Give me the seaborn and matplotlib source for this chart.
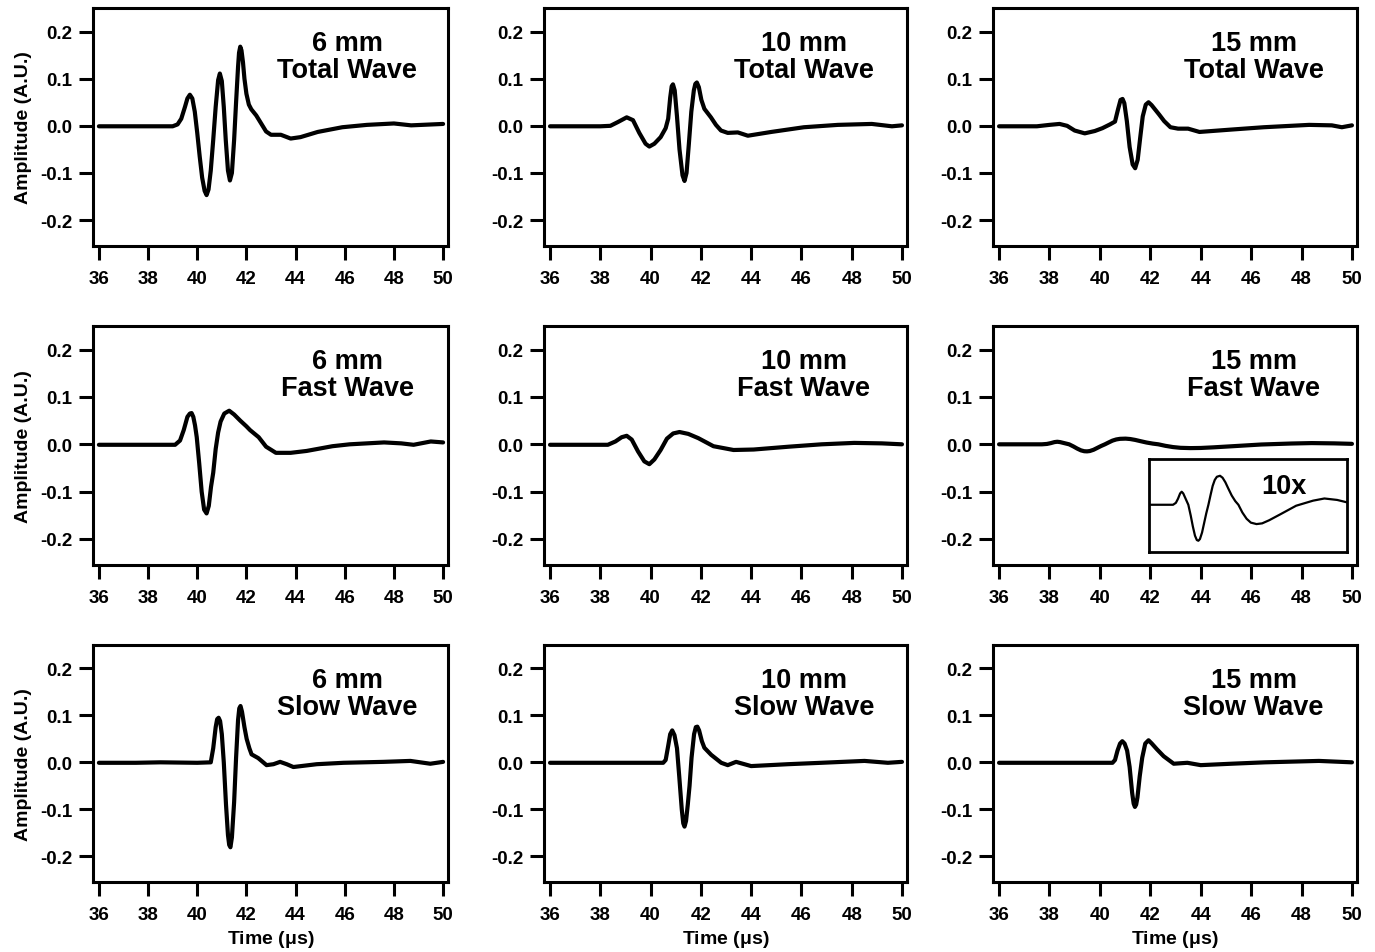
import numpy as np
import matplotlib.pyplot as plt
import seaborn as sns

# Waveforms: time in us, amplitude in A.U.
t_total_6 = [36.0, 37.0, 38.0, 39.0, 39.2, 39.35, 39.5, 39.6, 39.7, 39.8, 39.9, 40.0, 40.1, 40.2,
             40.3, 40.38, 40.46, 40.55, 40.65, 40.75, 40.85, 40.92, 41.0, 41.08, 41.16, 41.25,
             41.33, 41.41, 41.5, 41.58, 41.66, 41.7, 41.75, 41.8, 41.86, 41.92, 42.0, 42.1, 42.2,
             42.4, 42.6, 42.8, 43.0, 43.4, 43.8, 44.2, 44.9, 45.9, 46.9, 48.0, 48.7, 50.0]
a_total_6 = [-0.001, -0.001, -0.001, -0.001, 0.003, 0.015, 0.04, 0.058, 0.066, 0.058, 0.03, -0.015,
             -0.065, -0.11, -0.138, -0.147, -0.135, -0.095, -0.03, 0.04, 0.097, 0.111, 0.095, 0.04,
             -0.03, -0.095, -0.116, -0.1, -0.03, 0.05, 0.125, 0.155, 0.168, 0.16, 0.135, 0.1,
             0.068, 0.045, 0.035, 0.022, 0.005, -0.012, -0.019, -0.019, -0.027, -0.024, -0.013,
             -0.003, 0.002, 0.005, 0.001, 0.004]

t_total_10 = [36.0, 38.0, 38.4, 38.7, 39.05, 39.3, 39.55, 39.8, 39.95, 40.15, 40.4, 40.6, 40.7,
              40.78, 40.84, 40.89, 40.96, 41.05, 41.15, 41.27, 41.35, 41.43, 41.52, 41.62, 41.72,
              41.78, 41.84, 41.92, 42.02, 42.14, 42.4, 42.6, 42.8, 43.07, 43.47, 43.87, 44.8, 46.1,
              47.45, 48.8, 49.6, 50.0]
a_total_10 = [-0.001, -0.001, 0.0, 0.008, 0.018, 0.012, -0.015, -0.038, -0.044, -0.038, -0.024,
              -0.005, 0.015, 0.06, 0.084, 0.088, 0.075, 0.02, -0.05, -0.105, -0.117, -0.1, -0.04,
              0.03, 0.075, 0.089, 0.092, 0.082, 0.055, 0.036, 0.018, 0.002, -0.01, -0.015, -0.014,
              -0.021, -0.013, -0.003, 0.002, 0.004, -0.001, 0.001]

t_total_15 = [36.0, 37.5, 38.0, 38.4, 38.7, 39.0, 39.4, 39.8, 40.1, 40.4, 40.6, 40.72, 40.82, 40.9,
              40.97, 41.07, 41.18, 41.3, 41.4, 41.5, 41.6, 41.7, 41.82, 41.93, 42.05, 42.2, 42.35,
              42.55, 42.8, 43.1, 43.5, 43.95, 45.2, 46.5, 48.3, 49.2, 49.6, 50.0]
a_total_15 = [-0.001, -0.001, 0.002, 0.004, 0.0, -0.01, -0.016, -0.011, -0.005, 0.003, 0.009, 0.035,
              0.055, 0.057, 0.048, 0.01, -0.045, -0.082, -0.09, -0.072, -0.025, 0.02, 0.045, 0.05,
              0.044, 0.034, 0.024, 0.01, -0.003, -0.006, -0.006, -0.013, -0.008, -0.003, 0.002,
              0.001, -0.003, 0.001]

t_fast_6 = [36.0, 39.1, 39.3, 39.45, 39.6, 39.7, 39.77, 39.84, 39.91, 39.98, 40.08, 40.18, 40.28,
            40.38, 40.47, 40.56, 40.65, 40.75, 40.85, 40.95, 41.1, 41.3, 41.5, 41.75, 42.0, 42.15,
            42.5, 42.8, 43.2, 43.8, 44.45, 45.5, 46.2, 47.6, 48.3, 48.8, 49.5, 50.0]
a_fast_6 = [-0.001, -0.001, 0.008, 0.03, 0.058, 0.065, 0.066, 0.058, 0.04, 0.015, -0.04, -0.1,
            -0.138, -0.146, -0.13, -0.09, -0.06, -0.01, 0.025, 0.048, 0.065, 0.071, 0.063, 0.05,
            0.038, 0.03, 0.015, -0.005, -0.018, -0.018, -0.014, -0.004, 0.0, 0.004, 0.002, -0.001,
            0.006, 0.004]

t_fast_10 = [36.0, 38.3, 38.6, 38.85, 39.05, 39.25, 39.5, 39.75, 39.95, 40.15, 40.4, 40.65, 40.9,
             41.15, 41.5, 41.9, 42.5, 43.3, 44.1, 45.5, 46.8, 48.1, 49.2, 50.0]
a_fast_10 = [-0.001, -0.001, 0.006, 0.015, 0.018, 0.01, -0.015, -0.036, -0.042, -0.032, -0.012,
             0.012, 0.023, 0.026, 0.022, 0.013, -0.004, -0.012, -0.011, -0.005, 0.0, 0.003, 0.002,
             0.0]

t_fast_15 = [36.0, 37.7, 37.9, 38.05, 38.2, 38.31, 38.42, 38.55, 38.78, 38.95, 39.1, 39.25, 39.38,
             39.49, 39.6, 39.75, 39.9, 40.05, 40.2, 40.35, 40.5, 40.65, 40.8, 41.02, 41.2, 41.4,
             41.6, 41.85, 42.1, 42.32, 42.6, 42.9, 43.2, 43.6, 44.0, 44.5, 45.3, 46.4, 47.6, 48.4,
             49.3, 50.0]
a_fast_15 = [0.0, 0.0, 0.0008, 0.0025, 0.0047, 0.0054, 0.0047, 0.003, 0.0, -0.0045, -0.009,
             -0.0128, -0.0146, -0.0149, -0.0142, -0.0115, -0.0075, -0.0035, 0.0, 0.004, 0.0078,
             0.0103, 0.0116, 0.012, 0.0112, 0.0093, 0.0068, 0.0038, 0.0015, 0.0, -0.0032, -0.0058,
             -0.0074, -0.008, -0.0077, -0.0064, -0.0039, -0.0004, 0.0017, 0.0026, 0.002, 0.001]

t_slow_6 = [36.0, 37.5, 38.5, 40.0, 40.55, 40.65, 40.75, 40.81, 40.87, 40.93, 41.0, 41.08, 41.17,
            41.25, 41.3, 41.35, 41.41, 41.5, 41.58, 41.66, 41.71, 41.76, 41.82, 41.92, 42.01,
            42.12, 42.21, 42.48, 42.82, 43.1, 43.37, 43.64, 43.91, 44.86, 45.95, 47.58, 48.67,
            49.48, 50.0]
a_slow_6 = [-0.001, -0.001, 0.0, -0.001, 0.0, 0.03, 0.075, 0.092, 0.095, 0.088, 0.06, 0.0, -0.09,
            -0.155, -0.176, -0.181, -0.16, -0.085, 0.01, 0.09, 0.115, 0.12, 0.108, 0.075, 0.05,
            0.03, 0.017, 0.009, -0.006, -0.004, 0.001, -0.004, -0.01, -0.004, -0.001, 0.001, 0.003,
            -0.003, 0.001]

t_slow_10 = [36.0, 40.5, 40.6, 40.7, 40.78, 40.86, 40.95, 41.05, 41.14, 41.24, 41.3, 41.35, 41.41,
             41.48, 41.55, 41.63, 41.73, 41.8, 41.86, 41.93, 42.04, 42.14, 42.41, 42.81, 43.07,
             43.4, 44.0, 45.46, 46.79, 48.51, 49.44, 50.0]
a_slow_10 = [-0.001, -0.001, 0.005, 0.035, 0.06, 0.068, 0.058, 0.03, -0.03, -0.1, -0.13, -0.137,
             -0.125, -0.09, -0.05, 0.01, 0.06, 0.075, 0.076, 0.068, 0.045, 0.031, 0.016, -0.001,
             -0.006, 0.001, -0.008, -0.004, -0.001, 0.003, -0.001, 0.001]

t_slow_15 = [36.0, 40.5, 40.6, 40.7, 40.8, 40.89, 40.98, 41.08, 41.18, 41.28, 41.34, 41.39, 41.44,
             41.49, 41.58, 41.68, 41.8, 41.93, 42.06, 42.26, 42.53, 42.93, 43.47, 44.0, 45.21,
             46.55, 48.69, 50.0]
a_slow_15 = [-0.001, -0.001, 0.005, 0.025, 0.04, 0.045, 0.04, 0.025, -0.01, -0.065, -0.088, -0.095,
             -0.09, -0.075, -0.03, 0.01, 0.04, 0.047, 0.04, 0.028, 0.013, -0.003, -0.001, -0.006,
             -0.003, 0.0, 0.003, 0.0]

thickness_labels = ['6 mm', '10 mm', '15 mm']
wave_labels = ['Total Wave', 'Fast Wave', 'Slow Wave']
x_ticks = [36, 38, 40, 42, 44, 46, 48, 50]
y_ticks = [-0.2, -0.1, 0.0, 0.1, 0.2]
y_tick_labels = ['-0.2', '-0.1', '0.0', '0.1', '0.2']
inset_scale = 10

waves = [
    [(t_total_6, a_total_6), (t_total_10, a_total_10), (t_total_15, a_total_15)],
    [(t_fast_6, a_fast_6), (t_fast_10, a_fast_10), (t_fast_15, a_fast_15)],
    [(t_slow_6, a_slow_6), (t_slow_10, a_slow_10), (t_slow_15, a_slow_15)],
]

sns.set_theme(style='ticks')
plt.rcParams['font.family'] = ['Liberation Sans', 'DejaVu Sans']
plt.rcParams['font.weight'] = 'bold'
plt.rcParams['axes.unicode_minus'] = False
plt.rcParams['mathtext.default'] = 'regular'
for key in ['text.color', 'axes.labelcolor', 'xtick.color', 'ytick.color', 'axes.edgecolor']:
    plt.rcParams[key] = 'black'

W, H = 1375, 953
fig = plt.figure(figsize=(W / 100, H / 100), dpi=100)

# panel boxes in pixels (left, right) and (top, bottom)
col_px = [(93, 448), (544, 907), (993, 1357)]
row_px = [(9, 247), (327, 566), (646, 883)]

axes = [[None] * 3 for _ in range(3)]
for r in range(3):
    for c in range(3):
        x0, x1 = col_px[c]
        y0, y1 = row_px[r]
        ax = fig.add_axes([x0 / W, 1 - y1 / H, (x1 - x0) / W, (y1 - y0) / H])
        axes[r][c] = ax
        t, a = waves[r][c]
        sns.lineplot(x=t, y=a, ax=ax, color='black', linewidth=3)
        ax.set_xlim(35.76, 50.2)
        ax.set_ylim(-0.255, 0.25)
        ax.set_xticks(x_ticks)
        ax.set_yticks(y_ticks)
        ax.set_yticklabels(y_tick_labels)
        ax.tick_params(direction='out', length=10, width=2.2, labelsize=13.5)
        ax.tick_params(axis='x', pad=7)
        ax.tick_params(axis='y', pad=5)
        for lab in ax.get_xticklabels() + ax.get_yticklabels():
            lab.set_fontweight('bold')
        for sp in ax.spines.values():
            sp.set_linewidth(2.2)
        ax.set_xlabel('')
        ax.set_ylabel('')
        ax.text(46.1, 0.147, thickness_labels[c] + '\n' + wave_labels[r],
                ha='center', va='center', fontsize=19.5, fontweight='bold',
                linespacing=1.05)
        if c == 0:
            ax.set_ylabel('Amplitude (A.U.)', fontsize=14, fontweight='bold', labelpad=6)
        if r == 2:
            ax.set_xlabel('Time ($\\mu$s)', fontsize=14, fontweight='bold', labelpad=4)

# 10x magnified view of the 15 mm fast wave
ax = axes[1][2]
ax_in = ax.inset_axes([0.4286, 0.054, 0.544, 0.389])
sns.lineplot(x=t_fast_15, y=np.array(a_fast_15) * inset_scale, ax=ax_in,
             color='black', linewidth=1.6)
ax_in.set_xlim(36, 50)
ax_in.set_ylim(-0.196, 0.189)
ax_in.set_xticks([])
ax_in.set_yticks([])
ax_in.set_xlabel('')
ax_in.set_ylabel('')
for sp in ax_in.spines.values():
    sp.set_linewidth(2)
ax_in.text(0.68, 0.71, '10x', transform=ax_in.transAxes, ha='center', va='center',
           fontsize=19.5, fontweight='bold')

fig.savefig('out.png', dpi=100)
